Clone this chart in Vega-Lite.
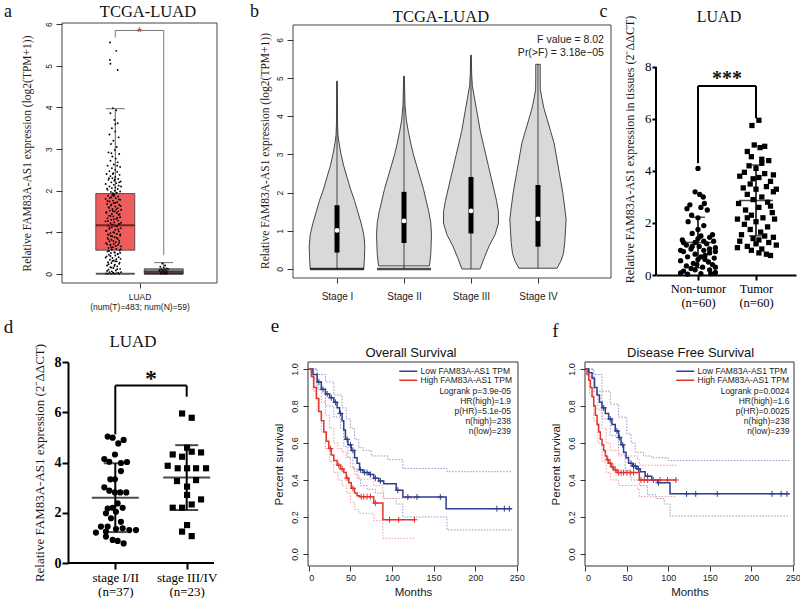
{
"$schema":"https://vega.github.io/schema/vega-lite/v6.json",
"background":"white",
"padding":{"left":3,"top":2,"right":0,"bottom":0},
"spacing":6,
"resolve":{"scale":{"color":"independent","fill":"independent","shape":"independent"},"legend":{"color":"independent"}},
"config":{
 "view":{"stroke":null},
 "axis":{"grid":false,"labelFont":"Liberation Sans","titleFont":"Liberation Serif","labelColor":"#1a1a1a","titleColor":"#1a1a1a","domainColor":"#333","tickColor":"#333","titleFontWeight":"normal","labelOverlap":false},
 "text":{"font":"Liberation Serif","color":"#111"}
},
"datasets":{
 "aBox":[{"g":"T","x":1,"lo":0.57,"hi":1.93,"med":1.17,"wmax":3.97,"wmin":0},{"g":"N","x":2,"lo":0,"hi":0.12,"med":0.05,"wmax":0.27,"wmin":0}],
 "aBr":[{"x":1,"x2":2,"y":5.85,"y2":5.85},{"x":1,"x2":1,"y":5.85,"y2":5.68},{"x":2,"x2":2,"y":5.85,"y2":0.45}],
 "aPts":[
  {"x":0.89,"y":5.56},{"x":1.02,"y":5.36},{"x":0.89,"y":5.14},{"x":0.9,"y":5.05},{"x":1.05,"y":4.9},
  {"x":0.95,"y":3.98},{"x":1.02,"y":3.93},{"x":0.9,"y":3.86},{"x":0.98,"y":3.7},{"x":1.05,"y":3.62},{"x":0.93,"y":3.5},{"x":1.0,"y":3.42},{"x":0.88,"y":3.35},{"x":1.07,"y":3.28},{"x":0.96,"y":3.2},{"x":0.91,"y":3.12},{"x":1.03,"y":3.05},{"x":0.99,"y":2.98},{"x":0.86,"y":2.92},{"x":1.08,"y":2.88},{"x":0.94,"y":2.82},{"x":1.01,"y":2.77},{"x":0.9,"y":2.72},{"x":1.05,"y":2.68},{"x":0.97,"y":2.63},{"x":0.84,"y":2.6},{"x":1.1,"y":2.57},{"x":0.93,"y":2.54},{"x":1.0,"y":2.5},{"x":0.88,"y":2.47},
  {"x":1.04,"y":2.45},{"x":0.96,"y":2.42},{"x":0.82,"y":2.4},{"x":1.09,"y":2.38},{"x":0.9,"y":2.35},{"x":1.0,"y":2.33},{"x":0.94,"y":2.3},{"x":1.06,"y":2.28},{"x":0.86,"y":2.26},{"x":0.98,"y":2.24},{"x":1.11,"y":2.22},{"x":0.92,"y":2.2},{"x":1.02,"y":2.18},{"x":0.8,"y":2.16},{"x":0.97,"y":2.14},{"x":1.07,"y":2.12},{"x":0.88,"y":2.1},{"x":1.0,"y":2.08},{"x":0.93,"y":2.06},{"x":1.05,"y":2.04},{"x":0.84,"y":2.02},{"x":0.99,"y":2.0},{"x":1.1,"y":1.98},{"x":0.91,"y":1.97},{"x":1.03,"y":1.95},{"x":0.95,"y":1.94},{"x":0.87,"y":2.3},{"x":1.08,"y":2.2},{"x":0.83,"y":2.05},{"x":1.12,"y":2.1},
  {"x":0.98,"y":1.9},{"x":0.85,"y":1.88},{"x":1.06,"y":1.86},{"x":0.92,"y":1.84},{"x":1.01,"y":1.82},{"x":0.8,"y":1.8},{"x":1.1,"y":1.78},{"x":0.95,"y":1.76},{"x":0.88,"y":1.74},{"x":1.04,"y":1.72},{"x":0.97,"y":1.7},{"x":0.83,"y":1.68},{"x":1.08,"y":1.66},{"x":0.91,"y":1.64},{"x":1.0,"y":1.62},{"x":0.86,"y":1.6},{"x":1.05,"y":1.58},{"x":0.94,"y":1.56},{"x":1.12,"y":1.54},{"x":0.89,"y":1.52},{"x":0.99,"y":1.5},{"x":0.81,"y":1.48},{"x":1.03,"y":1.46},{"x":0.93,"y":1.44},{"x":1.07,"y":1.42},{"x":0.87,"y":1.4},{"x":0.96,"y":1.38},{"x":1.1,"y":1.36},{"x":0.84,"y":1.34},{"x":1.02,"y":1.32},{"x":0.92,"y":1.3},{"x":1.06,"y":1.28},{"x":0.8,"y":1.26},{"x":0.98,"y":1.24},{"x":0.9,"y":1.22},{"x":1.09,"y":1.2},{"x":0.95,"y":1.18},{"x":0.85,"y":1.16},{"x":1.04,"y":1.14},{"x":0.93,"y":1.12},{"x":1.11,"y":1.1},{"x":0.88,"y":1.08},{"x":1.0,"y":1.06},{"x":0.82,"y":1.04},{"x":1.07,"y":1.02},{"x":0.96,"y":1.0},{"x":0.9,"y":0.98},{"x":1.03,"y":0.96},{"x":0.86,"y":0.94},{"x":1.1,"y":0.92},{"x":0.94,"y":0.9},{"x":0.99,"y":0.88},{"x":0.84,"y":0.86},{"x":1.05,"y":0.84},{"x":0.92,"y":0.82},{"x":1.08,"y":0.8},{"x":0.88,"y":0.78},{"x":1.01,"y":0.76},{"x":0.81,"y":0.74},{"x":0.97,"y":0.72},{"x":1.06,"y":0.7},{"x":0.9,"y":0.68},{"x":1.12,"y":0.66},{"x":0.95,"y":0.64},{"x":0.86,"y":0.62},{"x":1.02,"y":0.6},{"x":0.93,"y":0.58},
  {"x":1.09,"y":0.56},{"x":0.84,"y":0.54},{"x":0.98,"y":0.52},{"x":0.91,"y":0.5},{"x":1.05,"y":0.48},{"x":0.87,"y":0.46},{"x":1.0,"y":0.44},{"x":0.82,"y":0.42},{"x":1.07,"y":0.4},{"x":0.94,"y":0.38},{"x":1.11,"y":0.36},{"x":0.89,"y":0.34},{"x":0.97,"y":0.32},{"x":1.03,"y":0.3},{"x":0.85,"y":0.28},{"x":0.92,"y":0.26},{"x":1.08,"y":0.24},{"x":0.99,"y":0.22},{"x":0.83,"y":0.2},{"x":1.04,"y":0.18},{"x":0.9,"y":0.16},{"x":0.96,"y":0.14},{"x":1.1,"y":0.12},{"x":0.86,"y":0.1},{"x":1.01,"y":0.08},{"x":0.93,"y":0.06},{"x":0.88,"y":0.04},{"x":1.06,"y":0.03},{"x":0.95,"y":0.02},{"x":0.81,"y":0.01},{"x":1.02,"y":0.01},{"x":0.91,"y":0.0},{"x":0.98,"y":0.0},{"x":1.08,"y":0.0},{"x":0.85,"y":0.0},
  {"x":0.97,"y":1.87},{"x":0.89,"y":1.83},{"x":1.07,"y":1.79},{"x":0.84,"y":1.75},{"x":1.0,"y":1.71},{"x":0.92,"y":1.67},{"x":1.11,"y":1.63},{"x":0.87,"y":1.59},{"x":1.02,"y":1.55},{"x":0.95,"y":1.51},{"x":0.82,"y":1.47},{"x":1.09,"y":1.43},{"x":0.9,"y":1.39},{"x":1.04,"y":1.35},{"x":0.97,"y":1.31},{"x":0.85,"y":1.27},{"x":1.12,"y":1.23},{"x":0.93,"y":1.19},{"x":1.0,"y":1.15},{"x":0.88,"y":1.11},{"x":1.06,"y":1.07},{"x":0.81,"y":1.03},{"x":0.98,"y":0.99},{"x":1.1,"y":0.95},{"x":0.91,"y":0.91},{"x":1.03,"y":0.87},{"x":0.86,"y":0.83},{"x":0.96,"y":0.79},{"x":1.08,"y":0.75},{"x":0.83,"y":0.71},{"x":1.01,"y":0.67},{"x":0.92,"y":0.63},{"x":1.11,"y":0.59},{"x":0.87,"y":0.55},{"x":0.99,"y":0.51},{"x":1.05,"y":0.47},{"x":0.9,"y":0.43},{"x":0.8,"y":0.39},{"x":1.02,"y":0.35},{"x":0.94,"y":0.31},{"x":1.09,"y":0.27},{"x":0.86,"y":0.23},{"x":0.98,"y":0.19},{"x":0.92,"y":0.15},{"x":1.04,"y":0.11},{"x":0.83,"y":0.07},{"x":1.12,"y":0.04},{"x":0.96,"y":0.02},{"x":1.0,"y":0.3},{"x":0.9,"y":0.7},{"x":1.06,"y":1.5},{"x":0.94,"y":1.9},{"x":0.99,"y":2.27},{"x":1.04,"y":2.6},{"x":0.92,"y":2.9},{"x":1.0,"y":3.6},{"x":0.95,"y":2.4},{"x":1.07,"y":1.2},{"x":0.85,"y":0.95},{"x":1.1,"y":0.5},
  {"x":1.97,"y":0.25},{"x":2.03,"y":0.2},{"x":1.93,"y":0.17},{"x":2.0,"y":0.15},{"x":2.06,"y":0.13},{"x":1.95,"y":0.11},{"x":2.02,"y":0.1},{"x":1.98,"y":0.08},{"x":2.05,"y":0.07},{"x":1.92,"y":0.06},{"x":2.0,"y":0.05},{"x":1.96,"y":0.04},{"x":2.04,"y":0.03},{"x":1.94,"y":0.02},{"x":2.01,"y":0.02},{"x":2.07,"y":0.01},{"x":1.99,"y":0.01},{"x":1.95,"y":0.0},{"x":2.03,"y":0.0},{"x":2.08,"y":0.05},{"x":1.91,"y":0.09},{"x":2.09,"y":0.12}
 ],
 "bViol":[
  {"st":1,"v":0,"lo":0.6,"hi":1.4},{"st":1,"v":0.3,"lo":0.59,"hi":1.41},{"st":1,"v":0.6,"lo":0.585,"hi":1.415},{"st":1,"v":0.9,"lo":0.6,"hi":1.4},{"st":1,"v":1.2,"lo":0.64,"hi":1.36},{"st":1,"v":1.5,"lo":0.69,"hi":1.31},{"st":1,"v":1.8,"lo":0.74,"hi":1.26},{"st":1,"v":2.1,"lo":0.8,"hi":1.2},{"st":1,"v":2.4,"lo":0.85,"hi":1.15},{"st":1,"v":2.7,"lo":0.9,"hi":1.1},{"st":1,"v":3.0,"lo":0.94,"hi":1.06},{"st":1,"v":3.3,"lo":0.97,"hi":1.03},{"st":1,"v":3.5,"lo":0.985,"hi":1.015},{"st":1,"v":3.8,"lo":0.992,"hi":1.008},{"st":1,"v":4.92,"lo":0.995,"hi":1.005},
  {"st":2,"v":0.08,"lo":1.62,"hi":2.38},{"st":2,"v":0.4,"lo":1.6,"hi":2.4},{"st":2,"v":0.9,"lo":1.59,"hi":2.41},{"st":2,"v":1.2,"lo":1.6,"hi":2.4},{"st":2,"v":1.5,"lo":1.63,"hi":2.37},{"st":2,"v":1.8,"lo":1.67,"hi":2.33},{"st":2,"v":2.1,"lo":1.71,"hi":2.29},{"st":2,"v":2.4,"lo":1.76,"hi":2.24},{"st":2,"v":2.7,"lo":1.81,"hi":2.19},{"st":2,"v":3.0,"lo":1.86,"hi":2.14},{"st":2,"v":3.3,"lo":1.9,"hi":2.1},{"st":2,"v":3.6,"lo":1.935,"hi":2.065},{"st":2,"v":3.9,"lo":1.965,"hi":2.035},{"st":2,"v":4.3,"lo":1.985,"hi":2.015},{"st":2,"v":5.05,"lo":1.995,"hi":2.005},
  {"st":3,"v":0,"lo":2.865,"hi":3.135},{"st":3,"v":0.3,"lo":2.8,"hi":3.2},{"st":3,"v":0.6,"lo":2.73,"hi":3.27},{"st":3,"v":0.9,"lo":2.64,"hi":3.36},{"st":3,"v":1.2,"lo":2.59,"hi":3.41},{"st":3,"v":1.5,"lo":2.59,"hi":3.41},{"st":3,"v":1.8,"lo":2.62,"hi":3.38},{"st":3,"v":2.1,"lo":2.66,"hi":3.34},{"st":3,"v":2.4,"lo":2.7,"hi":3.3},{"st":3,"v":2.7,"lo":2.74,"hi":3.26},{"st":3,"v":3.0,"lo":2.78,"hi":3.22},{"st":3,"v":3.3,"lo":2.82,"hi":3.18},{"st":3,"v":3.6,"lo":2.86,"hi":3.14},{"st":3,"v":3.9,"lo":2.89,"hi":3.11},{"st":3,"v":4.2,"lo":2.92,"hi":3.08},{"st":3,"v":4.5,"lo":2.95,"hi":3.05},{"st":3,"v":4.8,"lo":2.98,"hi":3.02},{"st":3,"v":5.1,"lo":2.99,"hi":3.01},{"st":3,"v":5.6,"lo":2.995,"hi":3.005},
  {"st":4,"v":0.02,"lo":3.715,"hi":4.285},{"st":4,"v":0.2,"lo":3.66,"hi":4.34},{"st":4,"v":0.4,"lo":3.62,"hi":4.38},{"st":4,"v":0.7,"lo":3.6,"hi":4.4},{"st":4,"v":1.0,"lo":3.59,"hi":4.41},{"st":4,"v":1.3,"lo":3.58,"hi":4.42},{"st":4,"v":1.6,"lo":3.6,"hi":4.4},{"st":4,"v":2.0,"lo":3.63,"hi":4.37},{"st":4,"v":2.5,"lo":3.68,"hi":4.32},{"st":4,"v":3.0,"lo":3.73,"hi":4.27},{"st":4,"v":3.3,"lo":3.76,"hi":4.24},{"st":4,"v":3.6,"lo":3.81,"hi":4.19},{"st":4,"v":3.9,"lo":3.86,"hi":4.14},{"st":4,"v":4.2,"lo":3.91,"hi":4.09},{"st":4,"v":4.5,"lo":3.945,"hi":4.055},{"st":4,"v":4.7,"lo":3.965,"hi":4.035},{"st":4,"v":5.0,"lo":3.967,"hi":4.033},{"st":4,"v":5.36,"lo":3.967,"hi":4.033}
 ],
 "bBox":[{"st":1,"q1":0.43,"q3":1.67,"med":1.01,"min":0,"max":4.92},{"st":2,"q1":0.68,"q3":2.02,"med":1.26,"min":0,"max":5.05},{"st":3,"q1":0.93,"q3":2.41,"med":1.52,"min":0,"max":5.6},{"st":4,"q1":0.585,"q3":2.2,"med":1.31,"min":0.02,"max":5.36}],
 "cPts":[
  {"g":"N","x":1.0,"y":4.1},{"g":"N","x":0.95,"y":3.2},{"g":"N","x":1.03,"y":3.1},{"g":"N","x":1.09,"y":3.0},{"g":"N","x":1.11,"y":2.75},{"g":"N","x":0.86,"y":2.7},{"g":"N","x":1.05,"y":2.6},{"g":"N","x":0.81,"y":2.55},{"g":"N","x":1.16,"y":2.5},{"g":"N","x":0.89,"y":2.3},{"g":"N","x":1.0,"y":2.2},{"g":"N","x":0.83,"y":2.05},{"g":"N","x":1.1,"y":1.9},{"g":"N","x":1.0,"y":1.75},{"g":"N","x":0.9,"y":1.6},{"g":"N","x":1.05,"y":1.5},{"g":"N","x":1.2,"y":1.45},{"g":"N","x":0.73,"y":1.35},{"g":"N","x":1.27,"y":1.3},{"g":"N","x":0.95,"y":1.25},{"g":"N","x":1.15,"y":1.2},{"g":"N","x":0.8,"y":1.15},{"g":"N","x":1.02,"y":1.1},{"g":"N","x":1.3,"y":1.05},{"g":"N","x":0.88,"y":1.0},{"g":"N","x":1.1,"y":0.95},{"g":"N","x":0.75,"y":0.9},{"g":"N","x":1.2,"y":0.85},{"g":"N","x":0.95,"y":0.8},{"g":"N","x":1.12,"y":0.75},{"g":"N","x":0.82,"y":0.7},{"g":"N","x":1.28,"y":0.65},{"g":"N","x":1.0,"y":0.6},{"g":"N","x":0.7,"y":0.55},{"g":"N","x":1.18,"y":0.5},{"g":"N","x":0.92,"y":0.45},{"g":"N","x":1.25,"y":0.4},{"g":"N","x":0.8,"y":0.35},{"g":"N","x":1.08,"y":0.3},{"g":"N","x":0.88,"y":0.25},{"g":"N","x":1.2,"y":0.2},{"g":"N","x":0.75,"y":0.15},{"g":"N","x":1.3,"y":0.1},{"g":"N","x":0.7,"y":0.08},{"g":"N","x":1.05,"y":0.05},{"g":"N","x":1.22,"y":0.05},{"g":"N","x":0.82,"y":0.03},{"g":"N","x":1.0,"y":1.4},{"g":"N","x":1.2,"y":1.0},{"g":"N","x":1.12,"y":0.6},{"g":"N","x":0.75,"y":1.25},{"g":"N","x":0.7,"y":0.95},{"g":"N","x":1.05,"y":0.7},{"g":"N","x":1.25,"y":1.55},{"g":"N","x":0.98,"y":0.4},{"g":"N","x":1.3,"y":0.9},{"g":"N","x":0.9,"y":1.1},{"g":"N","x":1.3,"y":0.3},{"g":"N","x":0.95,"y":0.2},{"g":"N","x":1.1,"y":1.3},
  {"g":"T","x":2.05,"y":5.95},{"g":"T","x":1.93,"y":5.75},{"g":"T","x":1.97,"y":5.0},{"g":"T","x":2.15,"y":4.95},{"g":"T","x":2.07,"y":4.9},{"g":"T","x":1.85,"y":4.75},{"g":"T","x":1.92,"y":4.55},{"g":"T","x":2.1,"y":4.45},{"g":"T","x":2.22,"y":4.4},{"g":"T","x":1.88,"y":4.2},{"g":"T","x":2.0,"y":4.1},{"g":"T","x":1.8,"y":3.95},{"g":"T","x":2.15,"y":3.9},{"g":"T","x":2.3,"y":3.85},{"g":"T","x":1.72,"y":3.8},{"g":"T","x":2.05,"y":3.75},{"g":"T","x":2.25,"y":3.6},{"g":"T","x":1.9,"y":3.5},{"g":"T","x":2.18,"y":3.4},{"g":"T","x":1.78,"y":3.35},{"g":"T","x":2.0,"y":3.3},{"g":"T","x":2.3,"y":3.2},{"g":"T","x":1.85,"y":3.1},{"g":"T","x":2.1,"y":3.0},{"g":"T","x":1.95,"y":2.9},{"g":"T","x":2.2,"y":2.8},{"g":"T","x":1.7,"y":2.75},{"g":"T","x":2.05,"y":2.6},{"g":"T","x":1.82,"y":2.5},{"g":"T","x":2.28,"y":2.4},{"g":"T","x":1.92,"y":2.3},{"g":"T","x":2.12,"y":2.2},{"g":"T","x":1.68,"y":2.15},{"g":"T","x":2.32,"y":2.15},{"g":"T","x":2.0,"y":2.05},{"g":"T","x":1.8,"y":1.95},{"g":"T","x":2.2,"y":1.85},{"g":"T","x":1.9,"y":1.75},{"g":"T","x":2.08,"y":1.65},{"g":"T","x":1.75,"y":1.55},{"g":"T","x":2.15,"y":1.5},{"g":"T","x":2.3,"y":1.45},{"g":"T","x":1.95,"y":1.4},{"g":"T","x":2.05,"y":1.35},{"g":"T","x":1.72,"y":1.3},{"g":"T","x":2.22,"y":1.25},{"g":"T","x":2.0,"y":1.2},{"g":"T","x":2.35,"y":1.15},{"g":"T","x":1.85,"y":1.1},{"g":"T","x":1.68,"y":1.05},{"g":"T","x":2.1,"y":1.0},{"g":"T","x":1.92,"y":0.95},{"g":"T","x":2.05,"y":0.85},{"g":"T","x":2.18,"y":0.8},{"g":"T","x":2.25,"y":0.75},{"g":"T","x":1.95,"y":3.7},{"g":"T","x":2.25,"y":2.65},{"g":"T","x":1.85,"y":2.2},{"g":"T","x":2.35,"y":3.3},{"g":"T","x":2.1,"y":4.3}
 ],
 "cStat":[{"x":1,"m":1.25,"lo":0.28,"hi":2.22},{"x":2,"m":2.87,"lo":1.51,"hi":4.23}],
 "cBr":[{"x":1,"x2":2,"y":7.27,"y2":7.27},{"x":1,"x2":1,"y":4.3,"y2":7.27},{"x":2,"x2":2,"y":6.03,"y2":7.27}],
 "dPts":[
  {"g":"E","x":0.893,"y":5.03},{"g":"E","x":0.963,"y":4.99},{"g":"E","x":1.042,"y":4.76},{"g":"E","x":1.117,"y":4.9},{"g":"E","x":0.846,"y":4.14},{"g":"E","x":0.916,"y":4.03},{"g":"E","x":0.995,"y":4.32},{"g":"E","x":1.079,"y":3.98},{"g":"E","x":1.164,"y":4.02},{"g":"E","x":1.079,"y":3.66},{"g":"E","x":0.93,"y":3.33},{"g":"E","x":0.995,"y":3.33},{"g":"E","x":0.846,"y":3.01},{"g":"E","x":0.916,"y":2.88},{"g":"E","x":0.995,"y":2.81},{"g":"E","x":1.07,"y":2.81},{"g":"E","x":1.154,"y":2.81},{"g":"E","x":1.033,"y":2.37},{"g":"E","x":0.893,"y":2.17},{"g":"E","x":0.963,"y":2.2},{"g":"E","x":1.103,"y":2.2},{"g":"E","x":0.869,"y":1.98},{"g":"E","x":1.009,"y":2.04},{"g":"E","x":0.939,"y":1.78},{"g":"E","x":1.079,"y":1.64},{"g":"E","x":0.893,"y":1.45},{"g":"E","x":0.799,"y":1.45},{"g":"E","x":0.729,"y":1.21},{"g":"E","x":0.869,"y":1.25},{"g":"E","x":1.009,"y":1.35},{"g":"E","x":1.103,"y":1.38},{"g":"E","x":1.196,"y":1.31},{"g":"E","x":1.29,"y":1.31},{"g":"E","x":0.869,"y":1.05},{"g":"E","x":0.963,"y":0.92},{"g":"E","x":1.033,"y":0.88},{"g":"E","x":1.117,"y":0.78},
  {"g":"L","x":1.935,"y":5.95},{"g":"L","x":2.07,"y":5.78},{"g":"L","x":2.005,"y":4.59},{"g":"L","x":1.804,"y":4.32},{"g":"L","x":1.935,"y":4.23},{"g":"L","x":2.07,"y":4.43},{"g":"L","x":2.201,"y":4.4},{"g":"L","x":1.734,"y":3.87},{"g":"L","x":1.874,"y":3.77},{"g":"L","x":2.005,"y":3.77},{"g":"L","x":2.131,"y":3.77},{"g":"L","x":2.271,"y":3.77},{"g":"L","x":1.864,"y":3.26},{"g":"L","x":2.131,"y":3.3},{"g":"L","x":2.005,"y":3.04},{"g":"L","x":2.005,"y":2.71},{"g":"L","x":2.201,"y":2.53},{"g":"L","x":1.804,"y":2.2},{"g":"L","x":1.935,"y":2.2},{"g":"L","x":2.07,"y":2.33},{"g":"L","x":2.005,"y":1.51},{"g":"L","x":1.935,"y":1.25},{"g":"L","x":2.07,"y":1.07}
 ],
 "dStat":[{"x":1,"m":2.6,"lo":1.23,"hi":3.97},{"x":2,"m":3.4,"lo":2.11,"hi":4.69}],
 "dBr":[{"x":1,"x2":2,"y":7.06,"y2":7.06},{"x":1,"x2":1,"y":5.12,"y2":7.06},{"x":2,"x2":2,"y":6.62,"y2":7.06}],
 "eCurve":[
  {"g":"L","m":0,"s":1},{"g":"L","m":5,"s":0.97},{"g":"L","m":10,"s":0.93},{"g":"L","m":15,"s":0.89},{"g":"L","m":20,"s":0.865},{"g":"L","m":25,"s":0.845},{"g":"L","m":30,"s":0.82},{"g":"L","m":34,"s":0.79},{"g":"L","m":37,"s":0.76},{"g":"L","m":40,"s":0.72},{"g":"L","m":42,"s":0.67},{"g":"L","m":44,"s":0.62},{"g":"L","m":47,"s":0.59},{"g":"L","m":51,"s":0.56},{"g":"L","m":55,"s":0.52},{"g":"L","m":58,"s":0.49},{"g":"L","m":61,"s":0.455},{"g":"L","m":65,"s":0.44},{"g":"L","m":72,"s":0.43},{"g":"L","m":78,"s":0.41},{"g":"L","m":84,"s":0.395},{"g":"L","m":90,"s":0.38},{"g":"L","m":105,"s":0.345},{"g":"L","m":113,"s":0.308},{"g":"L","m":165,"s":0.245},{"g":"L","m":244,"s":0.245},
  {"g":"H","m":0,"s":1},{"g":"H","m":3,"s":0.96},{"g":"H","m":6,"s":0.9},{"g":"H","m":9,"s":0.84},{"g":"H","m":12,"s":0.77},{"g":"H","m":15,"s":0.72},{"g":"H","m":18,"s":0.66},{"g":"H","m":21,"s":0.61},{"g":"H","m":24,"s":0.57},{"g":"H","m":27,"s":0.535},{"g":"H","m":30,"s":0.505},{"g":"H","m":34,"s":0.48},{"g":"H","m":38,"s":0.46},{"g":"H","m":42,"s":0.44},{"g":"H","m":45,"s":0.41},{"g":"H","m":48,"s":0.385},{"g":"H","m":51,"s":0.355},{"g":"H","m":55,"s":0.33},{"g":"H","m":58,"s":0.315},{"g":"H","m":61,"s":0.31},{"g":"H","m":78,"s":0.275},{"g":"H","m":89,"s":0.185},{"g":"H","m":128,"s":0.185}
 ],
 "eCI":[
  {"g":"L","side":"u","m":0,"s":1},{"g":"L","side":"u","m":10,"s":0.97},{"g":"L","side":"u","m":20,"s":0.93},{"g":"L","side":"u","m":30,"s":0.86},{"g":"L","side":"u","m":40,"s":0.79},{"g":"L","side":"u","m":45,"s":0.73},{"g":"L","side":"u","m":50,"s":0.68},{"g":"L","side":"u","m":55,"s":0.62},{"g":"L","side":"u","m":60,"s":0.575},{"g":"L","side":"u","m":65,"s":0.56},{"g":"L","side":"u","m":75,"s":0.53},{"g":"L","side":"u","m":95,"s":0.51},{"g":"L","side":"u","m":113,"s":0.462},{"g":"L","side":"u","m":166,"s":0.445},{"g":"L","side":"u","m":244,"s":0.445},
  {"g":"L","side":"l","m":0,"s":1},{"g":"L","side":"l","m":10,"s":0.89},{"g":"L","side":"l","m":20,"s":0.8},{"g":"L","side":"l","m":30,"s":0.74},{"g":"L","side":"l","m":38,"s":0.68},{"g":"L","side":"l","m":42,"s":0.58},{"g":"L","side":"l","m":47,"s":0.52},{"g":"L","side":"l","m":53,"s":0.46},{"g":"L","side":"l","m":58,"s":0.41},{"g":"L","side":"l","m":62,"s":0.37},{"g":"L","side":"l","m":70,"s":0.35},{"g":"L","side":"l","m":80,"s":0.33},{"g":"L","side":"l","m":90,"s":0.3},{"g":"L","side":"l","m":105,"s":0.27},{"g":"L","side":"l","m":113,"s":0.2},{"g":"L","side":"l","m":166,"s":0.13},{"g":"L","side":"l","m":244,"s":0.13},
  {"g":"H","side":"u","m":0,"s":1},{"g":"H","side":"u","m":5,"s":0.95},{"g":"H","side":"u","m":10,"s":0.9},{"g":"H","side":"u","m":15,"s":0.82},{"g":"H","side":"u","m":20,"s":0.75},{"g":"H","side":"u","m":25,"s":0.68},{"g":"H","side":"u","m":30,"s":0.6},{"g":"H","side":"u","m":35,"s":0.57},{"g":"H","side":"u","m":40,"s":0.55},{"g":"H","side":"u","m":45,"s":0.52},{"g":"H","side":"u","m":50,"s":0.47},{"g":"H","side":"u","m":55,"s":0.43},{"g":"H","side":"u","m":60,"s":0.405},{"g":"H","side":"u","m":78,"s":0.37},{"g":"H","side":"u","m":89,"s":0.3},{"g":"H","side":"u","m":128,"s":0.3},
  {"g":"H","side":"l","m":0,"s":1},{"g":"H","side":"l","m":5,"s":0.88},{"g":"H","side":"l","m":10,"s":0.77},{"g":"H","side":"l","m":15,"s":0.66},{"g":"H","side":"l","m":20,"s":0.57},{"g":"H","side":"l","m":25,"s":0.5},{"g":"H","side":"l","m":30,"s":0.44},{"g":"H","side":"l","m":35,"s":0.4},{"g":"H","side":"l","m":40,"s":0.37},{"g":"H","side":"l","m":45,"s":0.33},{"g":"H","side":"l","m":50,"s":0.28},{"g":"H","side":"l","m":55,"s":0.24},{"g":"H","side":"l","m":60,"s":0.22},{"g":"H","side":"l","m":78,"s":0.18},{"g":"H","side":"l","m":89,"s":0.085},{"g":"H","side":"l","m":128,"s":0.085}
 ],
 "eCens":[
  {"g":"L","m":12,"s":0.93},{"g":"L","m":17,"s":0.89},{"g":"L","m":22,"s":0.865},{"g":"L","m":27,"s":0.845},{"g":"L","m":32,"s":0.82},{"g":"L","m":38,"s":0.76},{"g":"L","m":46,"s":0.62},{"g":"L","m":50,"s":0.59},{"g":"L","m":53,"s":0.56},{"g":"L","m":62,"s":0.455},{"g":"L","m":67,"s":0.44},{"g":"L","m":70,"s":0.44},{"g":"L","m":74,"s":0.43},{"g":"L","m":80,"s":0.41},{"g":"L","m":86,"s":0.395},{"g":"L","m":107,"s":0.345},{"g":"L","m":119,"s":0.308},{"g":"L","m":130,"s":0.308},{"g":"L","m":158,"s":0.308},{"g":"L","m":226,"s":0.245},{"g":"L","m":235,"s":0.245},{"g":"L","m":241,"s":0.245},
  {"g":"H","m":26,"s":0.57},{"g":"H","m":36,"s":0.48},{"g":"H","m":40,"s":0.46},{"g":"H","m":46,"s":0.41},{"g":"H","m":53,"s":0.355},{"g":"H","m":63,"s":0.31},{"g":"H","m":66,"s":0.31},{"g":"H","m":70,"s":0.31},{"g":"H","m":74,"s":0.31},{"g":"H","m":80,"s":0.275},{"g":"H","m":97,"s":0.185},{"g":"H","m":108,"s":0.185},{"g":"H","m":127,"s":0.185}
 ],
 "fCurve":[
  {"g":"L","m":0,"s":1},{"g":"L","m":4,"s":0.98},{"g":"L","m":8,"s":0.95},{"g":"L","m":11,"s":0.9},{"g":"L","m":14,"s":0.86},{"g":"L","m":17,"s":0.82},{"g":"L","m":20,"s":0.79},{"g":"L","m":24,"s":0.76},{"g":"L","m":28,"s":0.73},{"g":"L","m":32,"s":0.7},{"g":"L","m":36,"s":0.665},{"g":"L","m":40,"s":0.63},{"g":"L","m":43,"s":0.59},{"g":"L","m":46,"s":0.55},{"g":"L","m":49,"s":0.52},{"g":"L","m":52,"s":0.49},{"g":"L","m":57,"s":0.475},{"g":"L","m":62,"s":0.46},{"g":"L","m":66,"s":0.445},{"g":"L","m":72,"s":0.42},{"g":"L","m":80,"s":0.4},{"g":"L","m":87,"s":0.385},{"g":"L","m":102,"s":0.325},{"g":"L","m":246,"s":0.325},
  {"g":"H","m":0,"s":1},{"g":"H","m":2,"s":0.97},{"g":"H","m":4,"s":0.94},{"g":"H","m":6,"s":0.9},{"g":"H","m":8,"s":0.85},{"g":"H","m":10,"s":0.8},{"g":"H","m":12,"s":0.75},{"g":"H","m":14,"s":0.7},{"g":"H","m":16,"s":0.66},{"g":"H","m":18,"s":0.62},{"g":"H","m":20,"s":0.59},{"g":"H","m":22,"s":0.56},{"g":"H","m":24,"s":0.53},{"g":"H","m":26,"s":0.51},{"g":"H","m":28,"s":0.49},{"g":"H","m":31,"s":0.47},{"g":"H","m":34,"s":0.455},{"g":"H","m":38,"s":0.44},{"g":"H","m":65,"s":0.4},{"g":"H","m":110,"s":0.4}
 ],
 "fCI":[
  {"g":"L","side":"u","m":0,"s":1},{"g":"L","side":"u","m":10,"s":0.97},{"g":"L","side":"u","m":20,"s":0.88},{"g":"L","side":"u","m":30,"s":0.81},{"g":"L","side":"u","m":40,"s":0.74},{"g":"L","side":"u","m":50,"s":0.65},{"g":"L","side":"u","m":55,"s":0.6},{"g":"L","side":"u","m":60,"s":0.55},{"g":"L","side":"u","m":70,"s":0.53},{"g":"L","side":"u","m":80,"s":0.52},{"g":"L","side":"u","m":100,"s":0.505},{"g":"L","side":"u","m":246,"s":0.505},
  {"g":"L","side":"l","m":0,"s":1},{"g":"L","side":"l","m":10,"s":0.88},{"g":"L","side":"l","m":20,"s":0.73},{"g":"L","side":"l","m":30,"s":0.64},{"g":"L","side":"l","m":40,"s":0.54},{"g":"L","side":"l","m":48,"s":0.45},{"g":"L","side":"l","m":55,"s":0.4},{"g":"L","side":"l","m":65,"s":0.37},{"g":"L","side":"l","m":75,"s":0.32},{"g":"L","side":"l","m":85,"s":0.3},{"g":"L","side":"l","m":95,"s":0.27},{"g":"L","side":"l","m":102,"s":0.205},{"g":"L","side":"l","m":246,"s":0.205},
  {"g":"H","side":"u","m":0,"s":1},{"g":"H","side":"u","m":5,"s":0.96},{"g":"H","side":"u","m":10,"s":0.88},{"g":"H","side":"u","m":15,"s":0.78},{"g":"H","side":"u","m":20,"s":0.68},{"g":"H","side":"u","m":25,"s":0.6},{"g":"H","side":"u","m":30,"s":0.56},{"g":"H","side":"u","m":40,"s":0.53},{"g":"H","side":"u","m":63,"s":0.51},{"g":"H","side":"u","m":65,"s":0.48},{"g":"H","side":"u","m":110,"s":0.48},
  {"g":"H","side":"l","m":0,"s":1},{"g":"H","side":"l","m":5,"s":0.86},{"g":"H","side":"l","m":10,"s":0.72},{"g":"H","side":"l","m":15,"s":0.6},{"g":"H","side":"l","m":20,"s":0.5},{"g":"H","side":"l","m":25,"s":0.44},{"g":"H","side":"l","m":30,"s":0.4},{"g":"H","side":"l","m":40,"s":0.37},{"g":"H","side":"l","m":63,"s":0.35},{"g":"H","side":"l","m":65,"s":0.31},{"g":"H","side":"l","m":110,"s":0.31}
 ],
 "fCens":[
  {"g":"L","m":22,"s":0.79},{"g":"L","m":30,"s":0.73},{"g":"L","m":38,"s":0.665},{"g":"L","m":41,"s":0.63},{"g":"L","m":45,"s":0.59},{"g":"L","m":55,"s":0.49},{"g":"L","m":58,"s":0.475},{"g":"L","m":60,"s":0.475},{"g":"L","m":64,"s":0.46},{"g":"L","m":75,"s":0.42},{"g":"L","m":82,"s":0.4},{"g":"L","m":88,"s":0.385},{"g":"L","m":122,"s":0.325},{"g":"L","m":133,"s":0.325},{"g":"L","m":159,"s":0.325},{"g":"L","m":225,"s":0.325},{"g":"L","m":236,"s":0.325},{"g":"L","m":243,"s":0.325},
  {"g":"H","m":27,"s":0.51},{"g":"H","m":30,"s":0.49},{"g":"H","m":33,"s":0.47},{"g":"H","m":36,"s":0.455},{"g":"H","m":40,"s":0.44},{"g":"H","m":43,"s":0.44},{"g":"H","m":46,"s":0.44},{"g":"H","m":50,"s":0.44},{"g":"H","m":54,"s":0.44},{"g":"H","m":58,"s":0.44},{"g":"H","m":67,"s":0.4},{"g":"H","m":71,"s":0.4},{"g":"H","m":75,"s":0.4},{"g":"H","m":82,"s":0.4},{"g":"H","m":90,"s":0.4},{"g":"H","m":99,"s":0.4},{"g":"H","m":109,"s":0.4}
 ]
},
"vconcat":[
{
"hconcat":[
 {
  "width":186,"height":260,
  "layer":[
   {"data":{"name":"aBox"},"mark":{"type":"bar","width":39,"stroke":"#3a3a3a","strokeWidth":0.8},
    "encoding":{
     "x":{"field":"x","type":"quantitative","scale":{"domain":[-0.1,3.74],"nice":false,"zero":false,"padding":0},
      "axis":{"values":[1.5],"labelExpr":"['LUAD','(num(T)=483; num(N)=59)']","labelFontSize":8.5,"labelLineHeight":10,"tickSize":5,"labelPadding":4,"domain":false,"title":null}},
     "y":{"field":"lo","type":"quantitative","scale":{"domain":[-0.22,6.03],"nice":false,"zero":false,"padding":0},
      "axis":{"values":[0,1,2,3,4,5,6],"labelAngle":-90,"labelAlign":"center","labelBaseline":"bottom","labelFontSize":8.5,"tickSize":6,"labelPadding":3,"domain":false,"title":"Relative FAM83A-AS1 expression (log2(TPM+1))","titleFontSize":11.5,"titlePadding":12}},
     "y2":{"field":"hi"},
     "fill":{"field":"g","type":"nominal","scale":{"domain":["T","N"],"range":["#ee5c5c","#8c8c8c"]},"legend":null}}},
   {"data":{"name":"aBox"},"mark":{"type":"rule","color":"#333","strokeWidth":0.8},
    "encoding":{"x":{"field":"x","type":"quantitative"},"y":{"field":"hi","type":"quantitative"},"y2":{"field":"wmax"}}},
   {"data":{"name":"aPts"},"mark":{"type":"circle","size":3.5,"color":"#000","opacity":1},
    "encoding":{"x":{"field":"x","type":"quantitative"},"y":{"field":"y","type":"quantitative"}}},
   {"data":{"name":"aBox"},"mark":{"type":"tick","orient":"horizontal","size":39,"thickness":2,"color":"#3d0d0d"},
    "encoding":{"x":{"field":"x","type":"quantitative"},"y":{"field":"med","type":"quantitative"}}},
   {"data":{"name":"aBox"},"mark":{"type":"tick","orient":"horizontal","size":19,"thickness":1,"color":"#333"},
    "encoding":{"x":{"field":"x","type":"quantitative"},"y":{"field":"wmax","type":"quantitative"}}},
   {"data":{"name":"aBox"},"mark":{"type":"tick","orient":"horizontal","size":39,"thickness":2,"color":"#111"},
    "encoding":{"x":{"field":"x","type":"quantitative"},"y":{"field":"wmin","type":"quantitative"}}},
   {"data":{"name":"aBr"},"mark":{"type":"rule","color":"#7a7a7a","strokeWidth":1},
    "encoding":{"x":{"field":"x","type":"quantitative"},"x2":{"field":"x2"},"y":{"field":"y","type":"quantitative"},"y2":{"field":"y2"}}},
   {"data":{"values":[{}]},"mark":{"type":"text","text":"*","color":"#e03030","fontSize":14,"font":"Liberation Sans","align":"center","baseline":"middle","dy":3},
    "encoding":{"x":{"datum":1.5,"type":"quantitative"},"y":{"datum":5.85,"type":"quantitative"}}},
   {"data":{"values":[{}]},"mark":{"type":"rect","filled":false,"color":"#444","strokeWidth":1},
    "encoding":{"x":{"datum":-0.1,"type":"quantitative"},"x2":{"datum":3.1},"y":{"datum":-0.22,"type":"quantitative"},"y2":{"datum":6.03}}},
   {"data":{"values":[{}]},"mark":{"type":"text","text":"a","fontSize":18,"align":"center","baseline":"alphabetic"},
    "encoding":{"x":{"datum":-1.215,"type":"quantitative"},"y":{"datum":6.174,"type":"quantitative"}}},
   {"data":{"values":[{}]},"mark":{"type":"text","text":"TCGA-LUAD","fontSize":16.5,"align":"center","baseline":"alphabetic"},
    "encoding":{"x":{"datum":1.675,"type":"quantitative"},"y":{"datum":6.174,"type":"quantitative"}}}
  ]
 },
 {
  "width":318,"height":255,
  "layer":[
   {"data":{"name":"bViol"},"mark":{"type":"area","orient":"horizontal","fill":"#d9d9d9","stroke":"#444","strokeWidth":1},
    "encoding":{
     "y":{"field":"v","type":"quantitative","scale":{"domain":[-0.236,6.442],"nice":false,"zero":false,"padding":0},
      "axis":{"values":[0,1,2,3,4,5,6],"labelAngle":-90,"labelAlign":"center","labelBaseline":"bottom","labelFontSize":8.5,"tickSize":6,"labelPadding":3,"domain":false,"title":"Relative FAM83A-AS1 expression (log2(TPM+1))","titleFontSize":11.5,"titlePadding":5}},
     "x":{"field":"lo","type":"quantitative","scale":{"domain":[0.343,5.09],"nice":false,"zero":false,"padding":0},
      "axis":{"values":[1,2,3,4],"labelExpr":"['','Stage I','Stage II','Stage III','Stage IV'][datum.value]","labelFontSize":10,"tickSize":5,"labelPadding":8,"domain":false,"title":null}},
     "x2":{"field":"hi"},
     "detail":{"field":"st","type":"nominal"}}},
   {"data":{"name":"bBox"},"mark":{"type":"rule","color":"#444","strokeWidth":1},
    "encoding":{"x":{"field":"st","type":"quantitative"},"y":{"field":"min","type":"quantitative"},"y2":{"field":"max"}}},
   {"data":{"name":"bBox"},"transform":[{"filter":"datum.st <= 2"}],"mark":{"type":"tick","orient":"horizontal","size":54,"thickness":2.5,"color":"#000"},
    "encoding":{"x":{"field":"st","type":"quantitative"},"y":{"field":"min","type":"quantitative"}}},
   {"data":{"name":"bBox"},"mark":{"type":"rule","color":"#000","strokeWidth":5,"strokeCap":"butt"},
    "encoding":{"x":{"field":"st","type":"quantitative"},"y":{"field":"q1","type":"quantitative"},"y2":{"field":"q3"}}},
   {"data":{"name":"bBox"},"mark":{"type":"circle","color":"#fff","size":22,"opacity":1},
    "encoding":{"x":{"field":"st","type":"quantitative"},"y":{"field":"med","type":"quantitative"}}},
   {"data":{"values":[{}]},"mark":{"type":"text","text":["F value = 8.02","Pr(>F) = 3.18e−05"],"font":"Liberation Sans","fontSize":10.5,"lineHeight":13,"align":"right","baseline":"alphabetic","color":"#222"},
    "encoding":{"x":{"datum":4.985,"type":"quantitative"},"y":{"datum":5.918,"type":"quantitative"}}},
   {"data":{"values":[{}]},"mark":{"type":"rect","filled":false,"color":"#444","strokeWidth":1},
    "encoding":{"x":{"datum":0.343,"type":"quantitative"},"x2":{"datum":5.09},"y":{"datum":-0.236,"type":"quantitative"},"y2":{"datum":6.39}}},
   {"data":{"values":[{}]},"mark":{"type":"text","text":"b","fontSize":18,"align":"center","baseline":"alphabetic"},
    "encoding":{"x":{"datum":-0.232,"type":"quantitative"},"y":{"datum":6.599,"type":"quantitative"}}},
   {"data":{"values":[{}]},"mark":{"type":"text","text":"TCGA-LUAD","fontSize":16.5,"align":"center","baseline":"alphabetic"},
    "encoding":{"x":{"datum":2.552,"type":"quantitative"},"y":{"datum":6.468,"type":"quantitative"}}}
  ]
 },
 {
  "width":140,"height":252,
  "layer":[
   {"data":{"name":"cPts"},"mark":{"type":"point","filled":true,"size":28,"color":"#000","opacity":1},
    "encoding":{
     "x":{"field":"x","type":"quantitative","scale":{"domain":[0.2759,2.6897],"nice":false,"zero":false,"padding":0},
      "axis":{"values":[1,2],"labelExpr":"datum.value == 1 ? ['Non-tumor','(n=60)'] : ['Tumor','(n=60)']","labelFont":"Liberation Serif","labelFontSize":12.5,"labelLineHeight":14,"labelColor":"#000","tickSize":5,"tickWidth":2,"tickColor":"#000","domainWidth":2,"domainColor":"#000","labelPadding":2,"title":null}},
     "y":{"field":"y","type":"quantitative","scale":{"domain":[0,9.692],"nice":false,"zero":false,"padding":0},
      "axis":{"values":[0,2,4,6,8],"labelFont":"Liberation Serif","labelFontSize":13,"labelColor":"#000","tickSize":4,"tickWidth":2,"tickColor":"#000","labelPadding":1,"domain":false,"title":"Relative FAM83A-AS1 expression in tissues (2⁻ΔΔCT)","titleFontSize":12,"titlePadding":8}},
     "shape":{"field":"g","type":"nominal","scale":{"domain":["N","T"],"range":["circle","square"]},"legend":null}}},
   {"data":{"values":[{}]},"mark":{"type":"rule","color":"#000","strokeWidth":2},
    "encoding":{"x":{"datum":0.2759,"type":"quantitative"},"y":{"datum":0,"type":"quantitative"},"y2":{"datum":8}}},
   {"data":{"name":"cStat"},"mark":{"type":"tick","orient":"horizontal","size":34,"thickness":1.5,"color":"#000"},
    "encoding":{"x":{"field":"x","type":"quantitative"},"y":{"field":"m","type":"quantitative"}}},
   {"data":{"name":"cStat"},"mark":{"type":"rule","color":"#000","strokeWidth":1.5},
    "encoding":{"x":{"field":"x","type":"quantitative"},"y":{"field":"lo","type":"quantitative"},"y2":{"field":"hi"}}},
   {"data":{"name":"cStat"},"mark":{"type":"tick","orient":"horizontal","size":14,"thickness":1.5,"color":"#000"},
    "encoding":{"x":{"field":"x","type":"quantitative"},"y":{"field":"hi","type":"quantitative"}}},
   {"data":{"name":"cStat"},"mark":{"type":"tick","orient":"horizontal","size":14,"thickness":1.5,"color":"#000"},
    "encoding":{"x":{"field":"x","type":"quantitative"},"y":{"field":"lo","type":"quantitative"}}},
   {"data":{"name":"cBr"},"mark":{"type":"rule","color":"#000","strokeWidth":2},
    "encoding":{"x":{"field":"x","type":"quantitative"},"x2":{"field":"x2"},"y":{"field":"y","type":"quantitative"},"y2":{"field":"y2"}}},
   {"data":{"values":[{}]},"mark":{"type":"text","text":"***","fontSize":20,"fontWeight":"bold","align":"center","baseline":"alphabetic"},
    "encoding":{"x":{"datum":1.5,"type":"quantitative"},"y":{"datum":7.307,"type":"quantitative"}}},
   {"data":{"values":[{}]},"mark":{"type":"text","text":"c","fontSize":18,"align":"center","baseline":"alphabetic"},
    "encoding":{"x":{"datum":-0.629,"type":"quantitative"},"y":{"datum":9.923,"type":"quantitative"}}},
   {"data":{"values":[{}]},"mark":{"type":"text","text":"LUAD","fontSize":16,"align":"center","baseline":"alphabetic"},
    "encoding":{"x":{"datum":1.362,"type":"quantitative"},"y":{"datum":9.73,"type":"quantitative"}}}
  ]
 }
],
"spacing":45,"bounds":"flush",
"resolve":{"scale":{"color":"independent","fill":"independent","shape":"independent"},"legend":{"color":"independent"}}
},
{
"hconcat":[
 {
  "width":201,"height":201,
  "layer":[
   {"data":{"name":"dPts"},"mark":{"type":"point","filled":true,"size":38,"color":"#000","opacity":1},
    "encoding":{
     "x":{"field":"x","type":"quantitative","scale":{"domain":[0.2535,3.0686],"nice":false,"zero":false,"padding":0},
      "axis":{"values":[1,2],"labelExpr":"datum.value == 1 ? ['stage I/II','(n=37)'] : ['stage III/IV','(n=23)']","labelFont":"Liberation Serif","labelFontSize":13,"labelLineHeight":14,"labelColor":"#000","tickSize":6,"tickWidth":2,"tickColor":"#000","domain":false,"labelPadding":2,"title":null}},
     "y":{"field":"y","type":"quantitative","scale":{"domain":[0,8],"nice":false,"zero":false,"padding":0},
      "axis":{"values":[0,2,4,6,8],"offset":-6,"labelFont":"Liberation Serif","labelFontSize":14,"labelFontWeight":"bold","labelColor":"#000","tickSize":6,"tickWidth":2,"tickColor":"#000","domainWidth":2,"domainColor":"#000","labelPadding":1,"title":"Relative FAM83A-AS1 expression (2⁻ΔΔCT)","titleFontSize":13,"titlePadding":8}},
     "shape":{"field":"g","type":"nominal","scale":{"domain":["E","L"],"range":["circle","square"]},"legend":null}}},
   {"data":{"values":[{}]},"mark":{"type":"rule","color":"#000","strokeWidth":2},
    "encoding":{"x":{"datum":0.3375,"type":"quantitative"},"x2":{"datum":2.3824},"y":{"datum":0,"type":"quantitative"}}},
   {"data":{"name":"dStat"},"mark":{"type":"tick","orient":"horizontal","size":47,"thickness":2,"color":"#000"},
    "encoding":{"x":{"field":"x","type":"quantitative"},"y":{"field":"m","type":"quantitative"}}},
   {"data":{"name":"dStat"},"mark":{"type":"rule","color":"#000","strokeWidth":2},
    "encoding":{"x":{"field":"x","type":"quantitative"},"y":{"field":"lo","type":"quantitative"},"y2":{"field":"hi"}}},
   {"data":{"name":"dStat"},"mark":{"type":"tick","orient":"horizontal","size":23,"thickness":2,"color":"#000"},
    "encoding":{"x":{"field":"x","type":"quantitative"},"y":{"field":"hi","type":"quantitative"}}},
   {"data":{"name":"dStat"},"mark":{"type":"tick","orient":"horizontal","size":23,"thickness":2,"color":"#000"},
    "encoding":{"x":{"field":"x","type":"quantitative"},"y":{"field":"lo","type":"quantitative"}}},
   {"data":{"name":"dBr"},"mark":{"type":"rule","color":"#000","strokeWidth":2},
    "encoding":{"x":{"field":"x","type":"quantitative"},"x2":{"field":"x2"},"y":{"field":"y","type":"quantitative"},"y2":{"field":"y2"}}},
   {"data":{"values":[{}]},"mark":{"type":"text","text":"*","fontSize":24,"fontWeight":"bold","align":"center","baseline":"alphabetic"},
    "encoding":{"x":{"datum":1.5,"type":"quantitative"},"y":{"datum":7.05,"type":"quantitative"}}},
   {"data":{"values":[{}]},"mark":{"type":"text","text":"d","fontSize":19,"align":"center","baseline":"alphabetic"},
    "encoding":{"x":{"datum":-0.496,"type":"quantitative"},"y":{"datum":9.154,"type":"quantitative"}}},
   {"data":{"values":[{}]},"mark":{"type":"text","text":"LUAD","fontSize":17,"align":"center","baseline":"alphabetic"},
    "encoding":{"x":{"datum":1.248,"type":"quantitative"},"y":{"datum":8.597,"type":"quantitative"}}}
  ]
 },
 {
  "width":232,"height":204,
  "layer":[
   {"data":{"name":"eCI"},"transform":[{"filter":"datum.g == 'L'"}],"mark":{"type":"line","interpolate":"step-after","color":"#8f97c4","strokeWidth":1,"strokeDash":[1.5,1.5]},
    "encoding":{
     "x":{"field":"m","type":"quantitative","scale":{"domain":[-1,277.85],"nice":false,"zero":false,"padding":0},
      "axis":{"values":[0,50,100,150,200,250],"labelFontSize":9,"tickSize":5,"labelPadding":2,"domain":false,"title":"Months","titleFont":"Liberation Sans","titleFontSize":11.5,"titlePadding":4,"titleX":105}},
     "y":{"field":"s","type":"quantitative","scale":{"domain":[-0.065,1.038],"nice":false,"zero":false,"padding":0},
      "axis":{"values":[0,0.2,0.4,0.6,0.8,1],"format":".1f","labelAngle":-90,"labelAlign":"center","labelBaseline":"bottom","labelFontSize":9,"tickSize":5,"labelPadding":4,"domain":false,"title":"Percent survival","titleFont":"Liberation Sans","titleFontSize":11.5,"titlePadding":6}},
     "detail":{"field":"side","type":"nominal"}}},
   {"data":{"name":"eCI"},"transform":[{"filter":"datum.g == 'H'"}],"mark":{"type":"line","interpolate":"step-after","color":"#eb9b9b","strokeWidth":1,"strokeDash":[1.5,1.5]},
    "encoding":{"x":{"field":"m","type":"quantitative"},"y":{"field":"s","type":"quantitative"},"detail":{"field":"side","type":"nominal"}}},
   {"data":{"name":"eCurve"},"mark":{"type":"line","interpolate":"step-after","strokeWidth":1.5},
    "encoding":{"x":{"field":"m","type":"quantitative"},"y":{"field":"s","type":"quantitative"},
     "color":{"field":"g","type":"nominal","scale":{"domain":["L","H"],"range":["#2f3d8e","#e1352f"]},
      "legend":{"orient":"none","legendX":96,"legendY":5,"title":null,"symbolType":"M-3,0H3","symbolSize":36,"symbolStrokeWidth":1.5,"labelFont":"Liberation Sans","labelFontSize":8.5,"labelOffset":8,"rowPadding":0,"padding":0,"labelColor":"#222","labelExpr":"datum.value == 'L' ? 'Low FAM83A-AS1 TPM' : 'High FAM83A-AS1 TPM'"}}}},
   {"data":{"name":"eCens"},"mark":{"type":"point","shape":"M-1,0H1M0,-1V1","filled":false,"size":36,"strokeWidth":1,"opacity":1},
    "encoding":{"x":{"field":"m","type":"quantitative"},"y":{"field":"s","type":"quantitative"},"color":{"field":"g","type":"nominal","legend":null}}},
   {"data":{"values":[{}]},"mark":{"type":"text","text":["Logrank p=3.9e-05","HR(high)=1.9","p(HR)=5.1e-05","n(high)=238","n(low)=239"],"font":"Liberation Sans","fontSize":8.5,"lineHeight":10,"align":"right","baseline":"alphabetic","color":"#222"},
    "encoding":{"x":{"datum":243,"type":"quantitative"},"y":{"datum":0.865,"type":"quantitative"}}},
   {"data":{"values":[{}]},"mark":{"type":"rect","filled":false,"color":"#333","strokeWidth":1},
    "encoding":{"x":{"datum":-1,"type":"quantitative"},"x2":{"datum":251.4},"y":{"datum":-0.065,"type":"quantitative"},"y2":{"datum":1.038}}},
   {"data":{"values":[{}]},"mark":{"type":"text","text":"e","fontSize":19,"align":"center","baseline":"alphabetic"},
    "encoding":{"x":{"datum":-40.7,"type":"quantitative"},"y":{"datum":1.2,"type":"quantitative"}}},
   {"data":{"values":[{}]},"mark":{"type":"text","text":"Overall Survival","font":"Liberation Sans","fontSize":13,"align":"center","baseline":"alphabetic"},
    "encoding":{"x":{"datum":122.8,"type":"quantitative"},"y":{"datum":1.065,"type":"quantitative"}}}
  ]
 },
 {
  "width":209,"height":204,
  "layer":[
   {"data":{"name":"fCI"},"transform":[{"filter":"datum.g == 'L'"}],"mark":{"type":"line","interpolate":"step-after","color":"#8f97c4","strokeWidth":1,"strokeDash":[1.5,1.5]},
    "encoding":{
     "x":{"field":"m","type":"quantitative","scale":{"domain":[-0.5,251.5],"nice":false,"zero":false,"padding":0},
      "axis":{"values":[0,50,100,150,200,250],"labelFontSize":9,"tickSize":5,"labelPadding":2,"domain":false,"title":"Months","titleFont":"Liberation Sans","titleFontSize":11.5,"titlePadding":4}},
     "y":{"field":"s","type":"quantitative","scale":{"domain":[-0.065,1.038],"nice":false,"zero":false,"padding":0},
      "axis":{"values":[0,0.2,0.4,0.6,0.8,1],"format":".1f","labelAngle":-90,"labelAlign":"center","labelBaseline":"bottom","labelFontSize":9,"tickSize":5,"labelPadding":4,"domain":false,"title":"Percent survival","titleFont":"Liberation Sans","titleFontSize":11.5,"titlePadding":6}},
     "detail":{"field":"side","type":"nominal"}}},
   {"data":{"name":"fCI"},"transform":[{"filter":"datum.g == 'H'"}],"mark":{"type":"line","interpolate":"step-after","color":"#eb9b9b","strokeWidth":1,"strokeDash":[1.5,1.5]},
    "encoding":{"x":{"field":"m","type":"quantitative"},"y":{"field":"s","type":"quantitative"},"detail":{"field":"side","type":"nominal"}}},
   {"data":{"name":"fCurve"},"mark":{"type":"line","interpolate":"step-after","strokeWidth":1.5},
    "encoding":{"x":{"field":"m","type":"quantitative"},"y":{"field":"s","type":"quantitative"},
     "color":{"field":"g","type":"nominal","scale":{"domain":["L","H"],"range":["#2f3d8e","#e1352f"]},
      "legend":{"orient":"none","legendX":96,"legendY":5,"title":null,"symbolType":"M-3,0H3","symbolSize":36,"symbolStrokeWidth":1.5,"labelFont":"Liberation Sans","labelFontSize":8.5,"labelOffset":8,"rowPadding":0,"padding":0,"labelColor":"#222","labelExpr":"datum.value == 'L' ? 'Low FAM83A-AS1 TPM' : 'High FAM83A-AS1 TPM'"}}}},
   {"data":{"name":"fCens"},"mark":{"type":"point","shape":"M-1,0H1M0,-1V1","filled":false,"size":36,"strokeWidth":1,"opacity":1},
    "encoding":{"x":{"field":"m","type":"quantitative"},"y":{"field":"s","type":"quantitative"},"color":{"field":"g","type":"nominal","legend":null}}},
   {"data":{"values":[{}]},"mark":{"type":"text","text":["Logrank p=0.0024","HR(high)=1.6","p(HR)=0.0025","n(high)=238","n(low)=239"],"font":"Liberation Sans","fontSize":8.5,"lineHeight":10,"align":"right","baseline":"alphabetic","color":"#222"},
    "encoding":{"x":{"datum":246,"type":"quantitative"},"y":{"datum":0.865,"type":"quantitative"}}},
   {"data":{"values":[{}]},"mark":{"type":"rect","filled":false,"color":"#333","strokeWidth":1},
    "encoding":{"x":{"datum":-0.5,"type":"quantitative"},"x2":{"datum":251.5},"y":{"datum":-0.065,"type":"quantitative"},"y2":{"datum":1.038}}},
   {"data":{"values":[{}]},"mark":{"type":"text","text":"f","fontSize":19,"align":"center","baseline":"alphabetic"},
    "encoding":{"x":{"datum":-36.1,"type":"quantitative"},"y":{"datum":1.173,"type":"quantitative"}}},
   {"data":{"values":[{}]},"mark":{"type":"text","text":"Disease Free Survival","font":"Liberation Sans","fontSize":13,"align":"center","baseline":"alphabetic"},
    "encoding":{"x":{"datum":126.8,"type":"quantitative"},"y":{"datum":1.065,"type":"quantitative"}}}
  ]
 }
],
"spacing":45,"bounds":"flush",
"resolve":{"scale":{"color":"independent","fill":"independent","shape":"independent"},"legend":{"color":"independent"}}
}
]
}
